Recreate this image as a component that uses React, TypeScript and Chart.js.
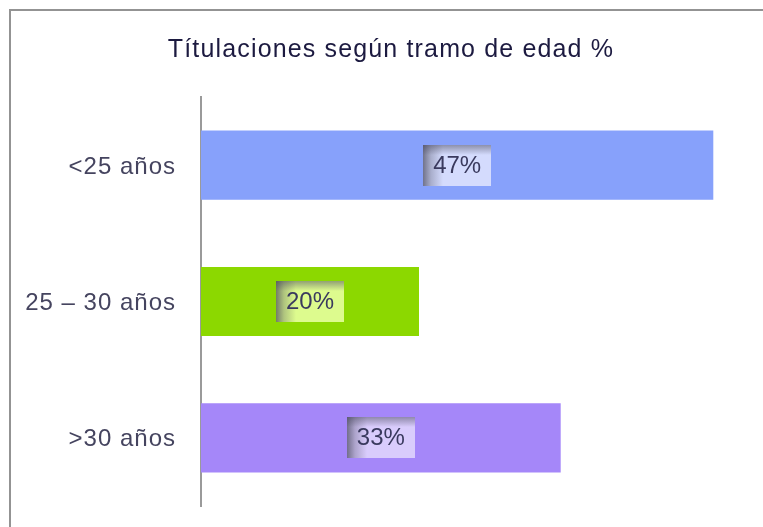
import React, { useEffect, useRef } from "react";
import { Chart, registerables } from "chart.js";

Chart.register(...registerables);

const TITLE = "Títulaciones según tramo de edad %";
const CATEGORIES = ["<25 años", "25 – 30 años", ">30 años"];
const VALUES = [47, 20, 33];
const BAR_COLORS = ["#87A1FB", "#8CD800", "#A587F9"];
const BOX_COLORS = ["#D4DBFD", "#DDFB8E", "#D9CCFC"];
const X_MAX = 50;

const FONT = "'Liberation Sans', Arial, sans-serif";

const framePlugin = {
  id: "frame",
  beforeDraw(chart: any) {
    const ctx = chart.ctx;
    ctx.save();
    ctx.fillStyle = "#ffffff";
    ctx.fillRect(0, 0, chart.width, chart.height);
    ctx.strokeStyle = "#939393";
    ctx.lineWidth = 2;
    ctx.beginPath();
    ctx.moveTo(10, chart.height + 2);
    ctx.lineTo(10, 10);
    ctx.lineTo(chart.width + 2, 10);
    ctx.stroke();
    ctx.fillStyle = "#1C1A40";
    ctx.font = `25px ${FONT}`;
    (ctx as any).letterSpacing = "1.15px";
    ctx.textAlign = "center";
    ctx.textBaseline = "middle";
    ctx.fillText(TITLE, 391, 50);
    ctx.restore();
    (ctx as any).letterSpacing = "1px";
  },
  afterDraw(chart: any) {
    (chart.ctx as any).letterSpacing = "0px";
  },
};

const labelPlugin = {
  id: "boxLabels",
  afterDatasetsDraw(chart: any) {
    const ctx = chart.ctx;
    const meta = chart.getDatasetMeta(0);
    ctx.save();
    (ctx as any).letterSpacing = "0px";
    meta.data.forEach((bar: any, i: number) => {
      const cx = (bar.x + bar.base) / 2;
      const cy = bar.y;
      const w = 68;
      const h = 41;
      const x0 = Math.round(cx - w / 2);
      const y0 = Math.round(cy - h / 2);
      ctx.fillStyle = BOX_COLORS[i];
      ctx.fillRect(x0, y0, w, h);
      let g = ctx.createLinearGradient(x0, 0, x0 + 20, 0);
      g.addColorStop(0, "rgba(70,70,90,0.7)");
      g.addColorStop(0.4, "rgba(70,70,90,0.3)");
      g.addColorStop(1, "rgba(70,70,90,0)");
      ctx.fillStyle = g;
      ctx.fillRect(x0, y0, 20, h);
      g = ctx.createLinearGradient(0, y0, 0, y0 + 10);
      g.addColorStop(0, "rgba(70,70,90,0.5)");
      g.addColorStop(1, "rgba(70,70,90,0)");
      ctx.fillStyle = g;
      ctx.fillRect(x0, y0, w, 10);
      ctx.fillStyle = "#3A3A5E";
      ctx.font = `24px ${FONT}`;
      ctx.textAlign = "center";
      ctx.textBaseline = "middle";
      ctx.fillText(VALUES[i] + "%", cx, cy + 1);
    });
    ctx.restore();
  },
};

export default function App() {
  const ref = useRef<HTMLCanvasElement>(null);
  useEffect(() => {
    if (!ref.current) return;
    const chart = new Chart(ref.current, {
      type: "bar",
      data: {
        labels: CATEGORIES,
        datasets: [
          {
            data: VALUES,
            backgroundColor: BAR_COLORS,
            borderWidth: 0,
            categoryPercentage: 1,
            barPercentage: 0.507,
          },
        ],
      },
      options: {
        indexAxis: "y",
        animation: false,
        responsive: false,
        layout: { padding: { left: 0, top: 97, right: 17, bottom: 21 } },
        plugins: { legend: { display: false }, tooltip: { enabled: false }, title: { display: false } },
        scales: {
          x: { display: false, min: 0, max: X_MAX },
          y: {
            afterFit(scale: any) {
              scale.width = 201;
              scale.paddingTop = 0;
              scale.paddingBottom = 0;
            },
            grid: { display: false, drawTicks: false },
            border: { display: true, color: "#9A9A9A", width: 2 },
            ticks: {
              padding: 25,
              labelOffset: 2,
              color: "#45445F",
              font: { family: FONT, size: 24 },
            },
          },
        },
      },
      plugins: [framePlugin, labelPlugin],
    });
    return () => chart.destroy();
  }, []);
  return (
    <div style={{ position: "fixed", left: 0, top: 0, width: 763, height: 527, background: "#fff" }}>
      <canvas ref={ref} width={763} height={527} style={{ display: "block" }} />
    </div>
  );
}
